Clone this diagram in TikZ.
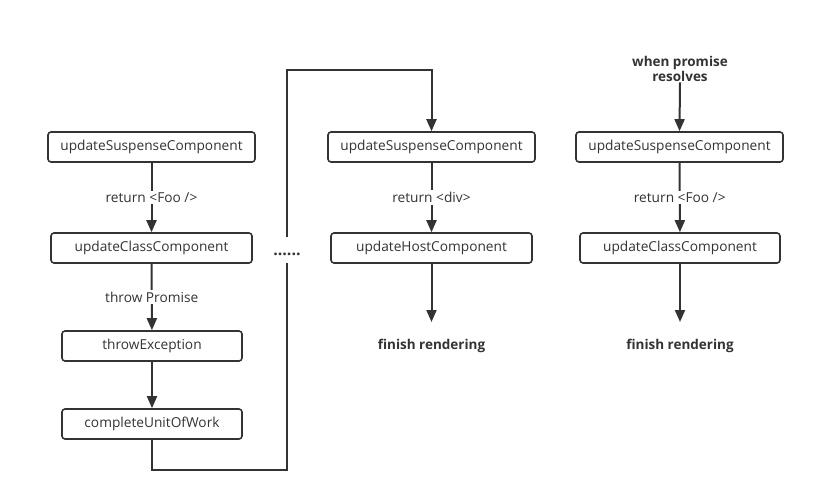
\documentclass[tikz,border=0pt]{standalone}
\usepackage{fontspec}
\setmainfont{Open Sans}
\usetikzlibrary{arrows.meta}
\definecolor{ink}{HTML}{333333}
\begin{document}
\begin{tikzpicture}[x=1pt,y=-1pt,
  txt/.style={font=\fontsize{13.7}{16}\selectfont, text=ink},
  box/.style={txt, draw=ink, line width=1.6pt, rounded corners=3pt,
    minimum height=30pt, inner sep=0pt},
  lbl/.style={txt, fill=white, inner sep=2pt},
  bold/.style={font=\fontsize{13.5}{15}\selectfont\bfseries, text=ink, inner sep=1pt},
  flow/.style={draw=ink, line width=2pt, -{Triangle[length=12pt,width=10pt]}},
  wire/.style={draw=ink, line width=2pt}]
\useasboundingbox (0,0) rectangle (815,501);

% left column: first render that suspends
\node[box, minimum width=207pt] (a1) at (151.5,147) {updateSuspenseComponent};
\node[box, minimum width=201pt] (a2) at (151.5,248) {updateClassComponent};
\node[box, minimum width=180pt] (a3) at (152,346) {throwException};
\node[box, minimum width=180pt] (a4) at (152,424) {completeUnitOfWork};

% middle column: fallback render
\node[box, minimum width=207pt] (b1) at (431.5,147) {updateSuspenseComponent};
\node[box, minimum width=201pt] (b2) at (431.5,248) {updateHostComponent};
\node[bold] (bf) at (431.5,346) {finish rendering};

% right column: retry after the promise resolves
\node[bold, align=center] (rs) at (680,68.5) {when promise\\resolves};
\node[box, minimum width=207pt] (c1) at (679.5,147) {updateSuspenseComponent};
\node[box, minimum width=200pt] (c2) at (680,248) {updateClassComponent};
\node[bold] (cf) at (680,346) {finish rendering};

% ellipsis on the loop-back wire
\node[font=\fontsize{16}{16}\selectfont\bfseries, text=ink, inner sep=0pt,
  minimum height=25pt, text height=10pt, text depth=0pt] (dots) at (287,250) {......};

% left column arrows
\draw[flow] (a1) -- node[lbl] {return <Foo />} (a2);
\draw[flow] (a2) -- node[lbl] {throw Promise} (a3);
\draw[flow] (a3) -- (a4);

% loop back to the suspense boundary
\draw[wire] (a4.south) -- ++(0,30) -| (dots.south);
\draw[flow] (dots.north) |- ([yshift=61pt]b1.north) -- (b1.north);

% middle column arrows
\draw[flow] (b1) -- node[lbl] {return <div>} (b2);
\draw[flow] (b2) -- ([yshift=24pt]bf.center);

% right column arrows
\draw[flow] (rs.south) -- (c1.north);
\draw[flow] (c1) -- node[lbl] {return <Foo />} (c2);
\draw[flow] (c2) -- ([yshift=24pt]cf.center);
\end{tikzpicture}
\end{document}
